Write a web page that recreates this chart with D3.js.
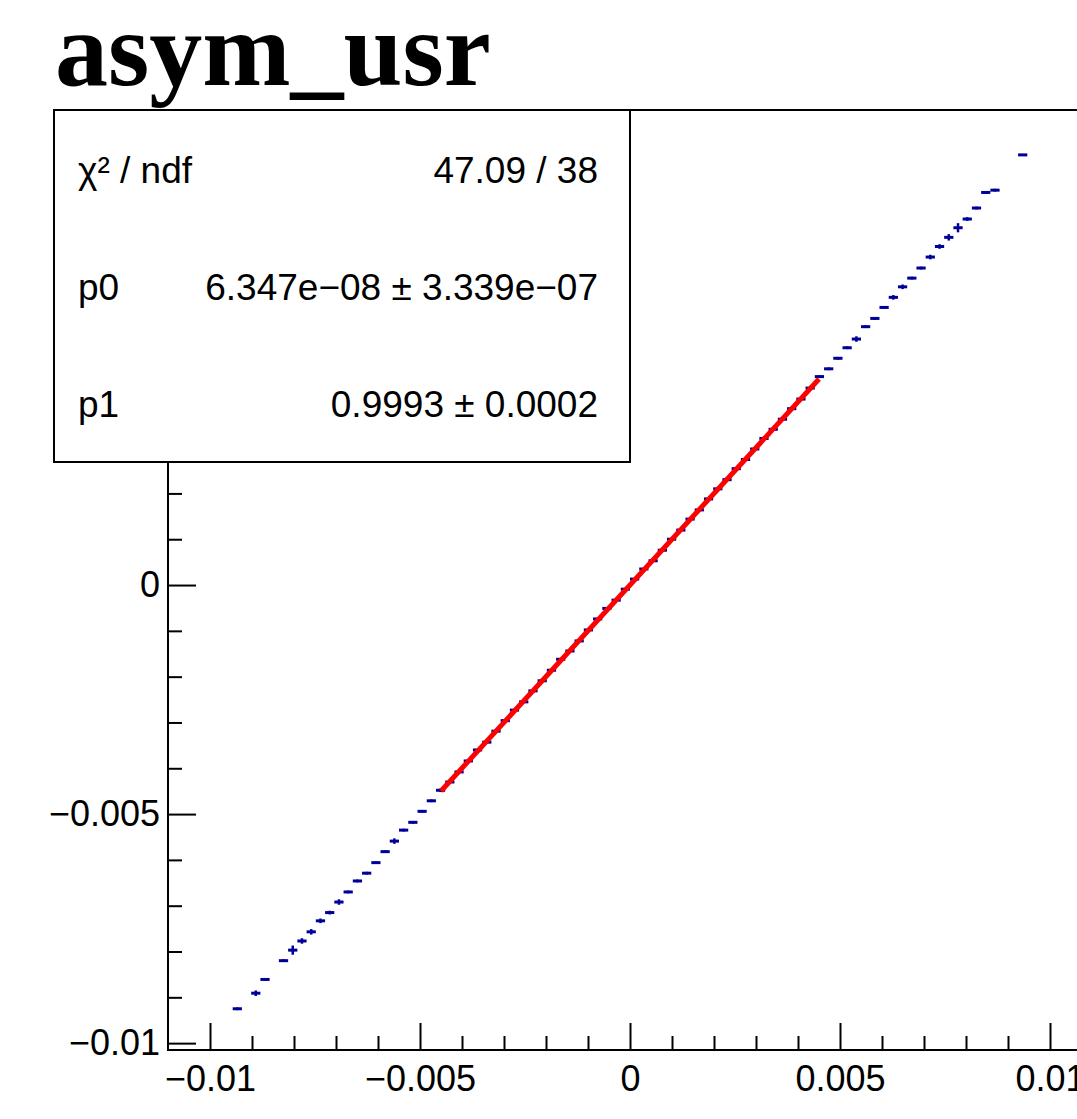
<!DOCTYPE html>
<meta charset="utf-8">
<script src="https://d3js.org/d3.v7.min.js"></script>
<style>
  body { margin: 0; background: #fff; }
  text { font-family: "Liberation Sans", Arial, sans-serif; }
</style>
<div id="vis"></div>
<script>

    // profile bins (centres) and mean values
    var binCenters = [
        -0.00935, -0.00891, -0.00869, -0.00825, -0.00803, -0.00781, -0.00759, -0.00737, -0.00715,
        -0.00693, -0.00671, -0.00649, -0.00627, -0.00605, -0.00583, -0.00561, -0.00539, -0.00517,
        -0.00495, -0.00473, -0.00451, -0.00429, -0.00407, -0.00385, -0.00363, -0.00341, -0.00319,
        -0.00297, -0.00275, -0.00253, -0.00231, -0.00209, -0.00187, -0.00165, -0.00143, -0.00121,
        -0.00099, -0.00077, -0.00055, -0.00033, -0.00011, 0.00011, 0.00033, 0.00055, 0.00077,
        0.00099, 0.00121, 0.00143, 0.00165, 0.00187, 0.00209, 0.00231, 0.00253, 0.00275,
        0.00297, 0.00319, 0.00341, 0.00363, 0.00385, 0.00407, 0.00429, 0.00451, 0.00473,
        0.00495, 0.00517, 0.00539, 0.00561, 0.00583, 0.00605, 0.00627, 0.00649, 0.00671,
        0.00693, 0.00715, 0.00737, 0.00759, 0.00781, 0.00803, 0.00825, 0.00847, 0.00869,
        0.00935
    ]
    var binMeans = [
        -0.00925, -0.00891, -0.00861, -0.00820, -0.00797, -0.00777, -0.00757, -0.00733, -0.00715,
        -0.00692, -0.00670, -0.00646, -0.00629, -0.00606, -0.00582, -0.00559, -0.00535, -0.00518,
        -0.00494, -0.00471, -0.00448, -0.00430, -0.00408, -0.00384, -0.00360, -0.00343, -0.00319,
        -0.00296, -0.00273, -0.00255, -0.00231, -0.00209, -0.00186, -0.00162, -0.00144, -0.00122,
        -0.00098, -0.00074, -0.00051, -0.00033, -0.00009, 0.00013, 0.00035, 0.00053, 0.00076,
        0.00100, 0.00120, 0.00144, 0.00164, 0.00188, 0.00210, 0.00230, 0.00254, 0.00274,
        0.00297, 0.00320, 0.00340, 0.00362, 0.00385, 0.00406, 0.00430, 0.00455, 0.00472,
        0.00495, 0.00518, 0.00537, 0.00564, 0.00582, 0.00606, 0.00628, 0.00651, 0.00670,
        0.00692, 0.00716, 0.00739, 0.00759, 0.00780, 0.00799, 0.00823, 0.00857, 0.00862,
        0.00939
    ]
    var binErrors = [
        0.00003, 0.00006, 0.00003, 0.00003, 0.00010, 0.00006, 0.00006, 0.00005, 0.00004,
        0.00006, 0.00003, 0.00003, 0.00003, 0.00003, 0.00003, 0.00006, 0.00003, 0.00003,
        0.00003, 0.00003, 0.00004, 0.00002, 0.00002, 0.00003, 0.00002, 0.00002, 0.00003,
        0.00002, 0.00002, 0.00002, 0.00002, 0.00003, 0.00002, 0.00002, 0.00002, 0.00002,
        0.00002, 0.00002, 0.00002, 0.00002, 0.00002, 0.00002, 0.00002, 0.00002, 0.00002,
        0.00002, 0.00002, 0.00002, 0.00002, 0.00002, 0.00002, 0.00002, 0.00002, 0.00002,
        0.00002, 0.00002, 0.00002, 0.00003, 0.00002, 0.00002, 0.00002, 0.00003, 0.00003,
        0.00003, 0.00003, 0.00006, 0.00003, 0.00003, 0.00003, 0.00005, 0.00005, 0.00003,
        0.00003, 0.00005, 0.00005, 0.00007, 0.00010, 0.00004, 0.00003, 0.00003, 0.00003,
        0.00002
    ]
    var binWidth = 0.00022

    // fit result
    var fitRange = [-0.0045, 0.0045]
    var fitP0 = 6.347e-08, fitP1 = 0.9993
    var statLabels = ["\u03C7\u00B2 / ndf", "p0", "p1"]
    var statValues = ["47.09 / 38", "6.347e\u221208 \u00B1 3.339e\u221207", "0.9993 \u00B1 0.0002"]

    var xMajor = [-0.01, -0.005, 0, 0.005, 0.01]
    var yMajor = [-0.01, -0.005, 0, 0.005, 0.01]
    var minorTicks = d3.range(-10, 11).filter(function (i) { return i % 5 != 0 }).map(function (i) { return i / 1000 })

    var W = 1077, H = 1119
    var frame = { left: 168, top: 110, right: 1092, bottom: 1050 }

    var svg = d3.select("#vis").append("svg")
        .attr("width", W)
        .attr("height", H)

    var x = d3.scaleLinear().domain([-0.011, 0.011]).range([frame.left, frame.right])
    var y = d3.scaleLinear().domain([-0.01015, 0.01037]).range([frame.bottom, frame.top])

    var fmt = function (d) { return d == 0 ? "0" : d3.format("~g")(d) }

    // frame
    svg.append("rect")
        .attr("x", frame.left).attr("y", frame.top)
        .attr("width", frame.right - frame.left).attr("height", frame.bottom - frame.top)
        .attr("fill", "none").attr("stroke", "#000").attr("stroke-width", 2)

    // x axis: majors with labels, minors without
    var gx = svg.append("g")
        .attr("transform", "translate(0," + frame.bottom + ")")
        .call(d3.axisBottom(x).tickValues(xMajor).tickSize(-27).tickSizeOuter(0).tickPadding(15).tickFormat(fmt))
    gx.append("g").call(d3.axisBottom(x).tickValues(minorTicks).tickSize(-14).tickSizeOuter(0).tickFormat(""))

    var gy = svg.append("g")
        .attr("transform", "translate(" + frame.left + ",0)")
        .call(d3.axisLeft(y).tickValues(yMajor).tickSize(-28).tickSizeOuter(0).tickPadding(8).tickFormat(fmt))
    gy.append("g").call(d3.axisLeft(y).tickValues(minorTicks).tickSize(-14).tickSizeOuter(0).tickFormat(""))

    svg.selectAll(".domain").remove()
    svg.selectAll(".tick line").attr("stroke", "#000").attr("stroke-width", 2)
    svg.selectAll(".tick text").style("font-size", "36px").attr("fill", "#000")
        .style("font-family", "'Liberation Sans', Arial, sans-serif")

    // profile points: bin width bar + error bar
    var pts = binCenters.map(function (c, i) { return { x: c, y: binMeans[i], e: binErrors[i] } })
    var gp = svg.append("g").attr("stroke", "#000099").attr("stroke-width", 3)
    gp.selectAll(".hbar").data(pts).enter().append("line")
        .attr("x1", function (d) { return x(d.x - binWidth / 2) })
        .attr("x2", function (d) { return x(d.x + binWidth / 2) })
        .attr("y1", function (d) { return y(d.y) })
        .attr("y2", function (d) { return y(d.y) })
    gp.selectAll(".vbar").data(pts).enter().append("line")
        .attr("stroke-width", 2.5)
        .attr("x1", function (d) { return x(d.x) })
        .attr("x2", function (d) { return x(d.x) })
        .attr("y1", function (d) { return y(d.y - d.e) })
        .attr("y2", function (d) { return y(d.y + d.e) })

    // fit line
    var fitLine = d3.line()
        .x(function (d) { return x(d) })
        .y(function (d) { return y(fitP0 + fitP1 * d) })
    svg.append("path")
        .datum(fitRange)
        .attr("d", fitLine)
        .attr("fill", "none")
        .attr("stroke", "#ff0000")
        .attr("stroke-width", 5)

    // stats box
    var box = { left: 54, top: 110, right: 630, bottom: 462 }
    svg.append("rect")
        .attr("x", box.left).attr("y", box.top)
        .attr("width", box.right - box.left).attr("height", box.bottom - box.top)
        .attr("fill", "#fff").attr("stroke", "#000").attr("stroke-width", 2)
    var rowH = (box.bottom - box.top) / statLabels.length
    statLabels.forEach(function (lab, i) {
        var by = box.top + rowH * (i + 0.5) + 14
        svg.append("text")
            .attr("x", box.left + 24).attr("y", by)
            .style("font-size", "37px")
            .text(lab)
        svg.append("text")
            .attr("x", box.right - 32).attr("y", by)
            .attr("text-anchor", "end")
            .style("font-size", "37px")
            .text(statValues[i])
    })

    // title
    svg.append("text")
        .attr("x", 55).attr("y", 85)
        .style("font-family", "'Liberation Serif', 'Times New Roman', serif")
        .style("font-weight", "bold")
        .style("font-size", "106px")
        .text("asym_usr")

</script>
